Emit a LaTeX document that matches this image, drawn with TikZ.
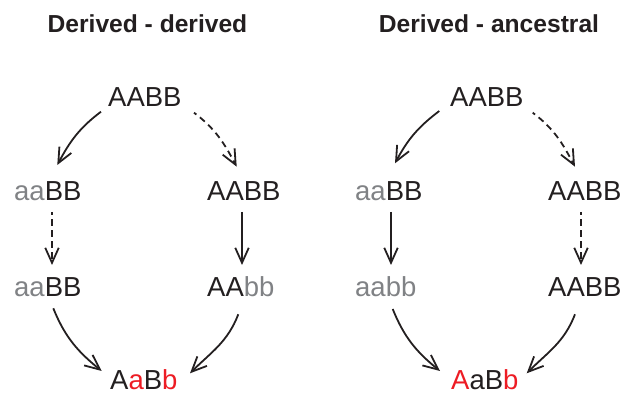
\documentclass[tikz,border=0pt]{standalone}
\usepackage{fontspec}
\setmainfont{Liberation Sans}
\usetikzlibrary{arrows.meta}
\definecolor{ink}{HTML}{231F20}
\definecolor{anc}{HTML}{808285}
\definecolor{der}{HTML}{ED1C24}
\newcommand{\ancl}[1]{\textcolor{anc}{#1}}
\newcommand{\derl}[1]{\textcolor{der}{#1}}
\begin{document}
\begin{tikzpicture}[x=1pt,y=1pt,
  geno/.style={inner sep=0pt, anchor=base west, font=\fontsize{27.5}{30}\selectfont, text=ink},
  ttl/.style={inner sep=0pt, anchor=base, font=\fontsize{24.6}{28}\selectfont\bfseries, text=ink},
  arr/.style={draw=ink, line width=1.8pt, -{Straight Barb[length=15pt,width=13.5pt]}},
  dsh/.style={arr, dash pattern=on 6.5pt off 4.5pt, dash phase=3.5pt}]
\useasboundingbox (0,0) rectangle (622,394);
% titles
\node[ttl] (T1) at (147.5,361) {Derived - derived};
\node[ttl] (T2) at (489,361) {Derived - ancestral};
% left panel
\node[geno] (t1) at (108,287) {AABB};
\node[geno] (a1) at (14,193) {\ancl{aa}BB};
\node[geno] (b1) at (207,193) {AABB};
\node[geno] (a2) at (14,97) {\ancl{aa}BB};
\node[geno] (b2) at (207,97) {AA\ancl{bb}};
\node[geno] (r1) at (110,4.5) {A\derl{a}B\derl{b}};
% right panel
\node[geno] (t2) at (450,287) {AABB};
\node[geno] (c1) at (355,193) {\ancl{aa}BB};
\node[geno] (d1) at (548,193) {AABB};
\node[geno] (c2) at (355,97) {\ancl{aabb}};
\node[geno] (d2) at (548,97) {AABB};
\node[geno] (r2) at (451,4.5) {\derl{A}aB\derl{b}};
% left arrows
\draw[arr] ([shift={(-7,-4.7)}]t1.base west) to[out=217,in=62] ([shift={(43.3,36)}]a1.base west);
\draw[dsh] ([shift={(86,-5.7)}]t1.base west) to[out=-37,in=118] ([shift={(29.7,34.3)}]b1.base west);
\draw[dsh] ([shift={(38,-11)}]a1.base west) -- ([shift={(38,32)}]a2.base west);
\draw[arr] ([shift={(35,-11)}]b1.base west) -- ([shift={(35,32)}]b2.base west);
\draw[arr] ([shift={(39.3,-11.3)}]a2.base west) to[out=-68,in=141] ([shift={(-8.3,18.5)}]r1.base west);
\draw[arr] ([shift={(31.3,-17.3)}]b2.base west) to[out=249,in=45] ([shift={(80,16.2)}]r1.base west);
% right arrows
\draw[arr] ([shift={(-10.7,-4)}]t2.base west) to[out=217,in=62] ([shift={(40,37.7)}]c1.base west);
\draw[dsh] ([shift={(82.7,-5.7)}]t2.base west) to[out=-37,in=118] ([shift={(27,34.3)}]d1.base west);
\draw[arr] ([shift={(36,-11)}]c1.base west) -- ([shift={(36,32)}]c2.base west);
\draw[dsh] ([shift={(33,-11)}]d1.base west) -- ([shift={(33,32)}]d2.base west);
\draw[arr] ([shift={(37.7,-12)}]c2.base west) to[out=-68,in=141] ([shift={(-11,18.5)}]r2.base west);
\draw[arr] ([shift={(27,-17.3)}]d2.base west) to[out=249,in=45] ([shift={(75.7,16.2)}]r2.base west);
\end{tikzpicture}
\end{document}
